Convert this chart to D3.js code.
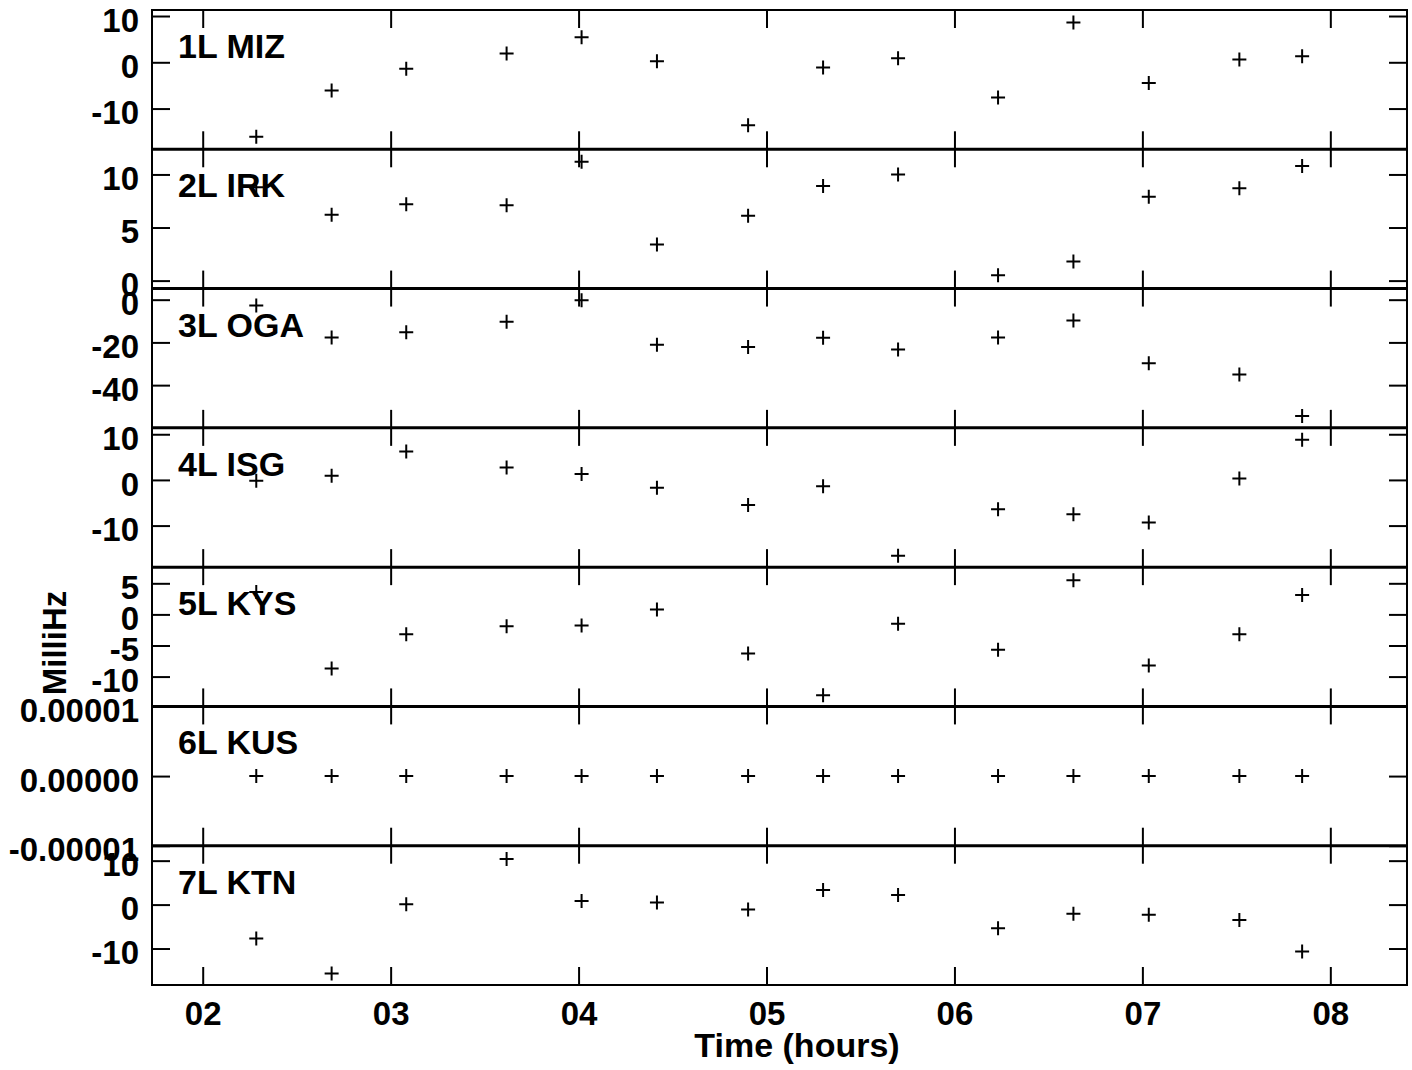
<!DOCTYPE html>
<html>
<head>
<meta charset="utf-8">
<script src="https://cdn.jsdelivr.net/npm/d3@7/dist/d3.min.js"></script>
<style>
  html, body { margin: 0; padding: 0; background: #fff; }
  svg { display: block; }
  text { font-family: "Liberation Sans", Arial, Helvetica, sans-serif; font-weight: bold; fill: #000; }
</style>
</head>
<body>
<svg id="chart" width="1412" height="1070"></svg>
<script>
// ---- data ----
const times = [2.285, 2.686, 3.083, 3.617, 4.016, 4.417, 4.902, 5.301, 5.700, 6.232, 6.633, 7.034, 7.516, 7.850];
const stations = ["1L MIZ", "2L IRK", "3L OGA", "4L ISG", "5L KYS", "6L KUS", "7L KTN"];
const miz = [-16.1, -6.1, -1.4, 1.9, 5.4, 0.2, -13.6, -1.1, 0.9, -7.6, 8.6, -4.5, 0.6, 1.3];
const irk = [8.8, 6.2, 7.2, 7.1, 11.2, 3.4, 6.1, 8.9, 10.0, 0.5, 1.8, 7.9, 8.7, 10.8];
const oga = [-2.7, -17.7, -15.3, -10.3, -0.3, -21.1, -22.2, -17.8, -23.3, -17.7, -9.7, -29.7, -35.0, -54.4];
const isg = [-0.2, 0.9, 6.2, 2.7, 1.3, -1.7, -5.5, -1.4, -16.6, -6.4, -7.5, -9.3, 0.3, 8.8];
const kys = [3.6, -8.7, -3.2, -1.9, -1.8, 0.8, -6.3, -13.0, -1.5, -5.7, 5.5, -8.2, -3.2, 3.1];
const kus = [0, 0, 0, 0, 0, 0, 0, 0, 0, 0, 0, 0, 0, 0];
const ktn = [-7.7, -15.7, 0.1, 10.4, 0.8, 0.5, -1.1, 3.3, 2.2, -5.4, -2.1, -2.3, -3.5, -10.7];
const seriesValues = [miz, irk, oga, isg, kys, kus, ktn];
const yDomains = [[-18.8, 11.3], [-0.75, 12.37], [-60.0, 5.2], [-19.1, 11.4], [-14.8, 7.6], [-0.00001, 0.00001], [-18.3, 13.4]];
const yTicks = [[10, 0, -10], [10, 5, 0], [0, -20, -40], [10, 0, -10], [5, 0, -5, -10], [0.00001, 0, -0.00001], [10, 0, -10]];
const xTicks = [2, 3, 4, 5, 6, 7, 8];
const xDomain = [1.7302, 8.408];
const xTitle = "Time (hours)";
const yTitle = "MilliHz";

// ---- layout ----
const W = 1412, H = 1070;
const plotL = 152, plotR = 1407, plotT = 10, plotB = 985;
const nP = stations.length;
const pH = (plotB - plotT) / nP;
const tickLen = 18;
const fontTick = 33;

const svg = d3.select("#chart");
svg.append("rect").attr("width", W).attr("height", H).attr("fill", "#fff");

const x = d3.scaleLinear().domain(xDomain).range([plotL, plotR]);
const hyph = s => s.replace(/\u2212/g, "-");
const fmtInt = d => hyph(d3.format("d")(d));
const fmt5 = d => hyph(d3.format(".5f")(d));

const plusPath = "M-7,0H7M0,-7V7";

stations.forEach((name, i) => {
  const y0 = plotT + i * pH, y1 = y0 + pH;
  const y = d3.scaleLinear().domain(yDomains[i]).range([y1, y0]);
  const g = svg.append("g");
  const fmt = i === 5 ? fmt5 : fmtInt;

  const la = g.append("g").attr("transform", `translate(${plotL},0)`)
    .call(d3.axisLeft(y).tickValues(yTicks[i]).tickFormat(fmt).tickSizeInner(-tickLen).tickSizeOuter(0).tickPadding(13));
  const ra = g.append("g").attr("transform", `translate(${plotR},0)`)
    .call(d3.axisRight(y).tickValues(yTicks[i]).tickFormat("").tickSizeInner(-tickLen).tickSizeOuter(0));
  const ta = g.append("g").attr("transform", `translate(0,${y0})`)
    .call(d3.axisTop(x).tickValues(xTicks).tickFormat("").tickSizeInner(-tickLen).tickSizeOuter(0));
  const ba = g.append("g").attr("transform", `translate(0,${y1})`)
    .call(d3.axisBottom(x).tickValues(xTicks).tickFormat(i === nP - 1 ? (d => "0" + d) : "").tickSizeInner(-tickLen).tickSizeOuter(0).tickPadding(17));

  [la, ra, ta, ba].forEach(a => {
    a.attr("font-family", null).attr("font-size", null);
    a.select(".domain").remove();
    a.selectAll(".tick line").attr("stroke", "#000").attr("stroke-width", 2);
    a.selectAll(".tick text").attr("font-size", fontTick).attr("fill", "#000");
  });
  la.selectAll(".tick text").attr("dy", "0.46em");

  g.append("text").attr("x", plotL + 26).attr("y", y0 + 48)
    .attr("font-size", 34).text(name);

  g.selectAll("path.pt").data(seriesValues[i].map((v, j) => ({t: times[j], v})))
    .join("path").attr("class", "pt")
    .attr("d", plusPath)
    .attr("transform", d => `translate(${x(d.t)},${y(d.v)})`)
    .attr("stroke", "#000").attr("stroke-width", 2).attr("fill", "none");

  if (i > 0) {
    svg.append("line").attr("x1", plotL).attr("x2", plotR).attr("y1", y0).attr("y2", y0)
      .attr("stroke", "#000").attr("stroke-width", 3);
  }
});

svg.append("rect").attr("x", plotL).attr("y", plotT).attr("width", plotR - plotL).attr("height", plotB - plotT)
  .attr("fill", "none").attr("stroke", "#000").attr("stroke-width", 2);

svg.append("text").attr("x", 797).attr("y", 1057).attr("text-anchor", "middle")
  .attr("font-size", 34).text(xTitle);
svg.append("text").attr("transform", "translate(66,643) rotate(-90)").attr("text-anchor", "middle")
  .attr("font-size", 33).text(yTitle);
</script>
</body>
</html>
